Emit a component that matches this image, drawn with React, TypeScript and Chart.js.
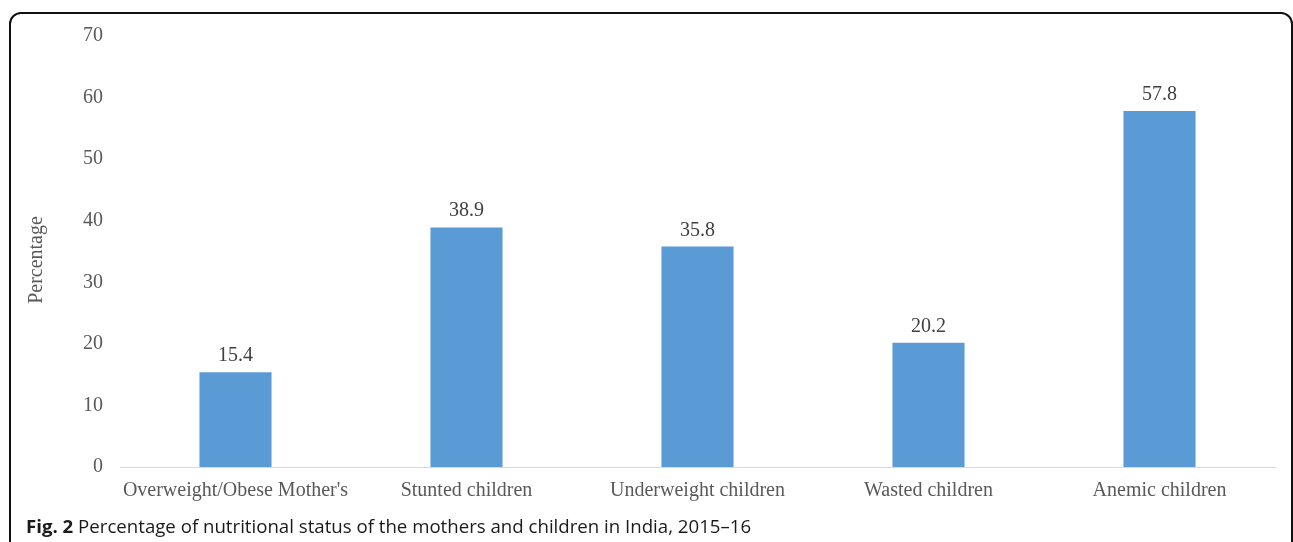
import React, { useEffect, useRef } from "react";
import { Chart, registerables } from "chart.js";

Chart.register(...registerables);

const categories = [
  "Overweight/Obese Mother's",
  "Stunted children",
  "Underweight children",
  "Wasted children",
  "Anemic children",
];
const values = [15.4, 38.9, 35.8, 20.2, 57.8];
const yTicks = [0, 10, 20, 30, 40, 50, 60, 70];
const yTitle = "Percentage";
const captionBold = "Fig. 2";
const captionText = " Percentage of nutritional status of the mothers and children in India, 2015–16";

const serif = '"Liberation Serif", "Times New Roman", serif';

const valueLabels = {
  id: "valueLabels",
  afterDatasetsDraw(chart: any) {
    const ctx = chart.ctx;
    const meta = chart.getDatasetMeta(0);
    ctx.save();
    ctx.font = "20px " + serif;
    ctx.fillStyle = "#404040";
    ctx.textAlign = "center";
    ctx.textBaseline = "alphabetic";
    meta.data.forEach((bar: any, i: number) => {
      ctx.fillText(values[i].toFixed(1), bar.x, bar.y - 11);
    });
    ctx.restore();
  },
};

const yTitlePlugin = {
  id: "yTitlePlugin",
  afterDraw(chart: any) {
    const ctx = chart.ctx;
    ctx.save();
    ctx.translate(37, 260);
    ctx.rotate(-Math.PI / 2);
    ctx.font = "20px " + serif;
    ctx.fillStyle = "#595959";
    ctx.textAlign = "center";
    ctx.textBaseline = "middle";
    ctx.fillText(yTitle, 0, 0);
    ctx.restore();
  },
};

export default function App() {
  const ref = useRef<HTMLCanvasElement>(null);
  useEffect(() => {
    if (!ref.current) return;
    const chart = new Chart(ref.current, {
      type: "bar",
      data: {
        labels: categories,
        datasets: [
          {
            data: values,
            backgroundColor: "#5B9BD5",
            barPercentage: 0.312,
            categoryPercentage: 1,
          },
        ],
      },
      options: {
        responsive: false,
        animation: false,
        maintainAspectRatio: false,
        layout: { padding: { left: 0, right: 18, top: 36, bottom: 25 } },
        plugins: {
          legend: { display: false },
          tooltip: { enabled: false },
        },
        scales: {
          x: {
            grid: { display: false, drawTicks: false },
            border: { display: true, color: "#d9d9d9", width: 1 },
            ticks: {
              color: "#595959",
              font: { family: serif, size: 20 },
              padding: 12,
              maxRotation: 0,
              autoSkip: false,
            },
            afterFit: (s: any) => {
              s.height = 50;
            },
          },
          y: {
            min: 0,
            max: 70,
            afterBuildTicks: (s: any) => {
              s.ticks = yTicks.map((v) => ({ value: v }));
            },
            grid: { display: false, drawTicks: false },
            border: { display: false },
            ticks: {
              color: "#595959",
              font: { family: serif, size: 20 },
              padding: 17,
            },
            title: { display: false, text: yTitle },
            afterFit: (s: any) => {
              s.width = 120;
            },
          },
        },
      },
      plugins: [valueLabels, yTitlePlugin],
    });
    return () => chart.destroy();
  }, []);

  return (
    <div
      style={{
        position: "fixed",
        left: 0,
        top: 0,
        width: 1293,
        height: 542,
        overflow: "hidden",
        background: "#fff",
      }}
    >
      <canvas
        ref={ref}
        width={1293}
        height={542}
        style={{ position: "absolute", left: 0, top: 0, width: 1293, height: 542 }}
      />
      <div
        style={{
          position: "absolute",
          left: 9,
          top: 12,
          width: 1284,
          height: 700,
          boxSizing: "border-box",
          border: "2px solid #111",
          borderRadius: 12,
          pointerEvents: "none",
        }}
      />
      <div
        style={{
          position: "absolute",
          left: 26,
          top: 513,
          fontFamily: '"Open Sans", sans-serif',
          fontSize: 18.65,
          color: "#1a1a1a",
          whiteSpace: "nowrap",
          lineHeight: "normal",
        }}
      >
        <b>{captionBold}</b>
        {captionText}
      </div>
    </div>
  );
}
